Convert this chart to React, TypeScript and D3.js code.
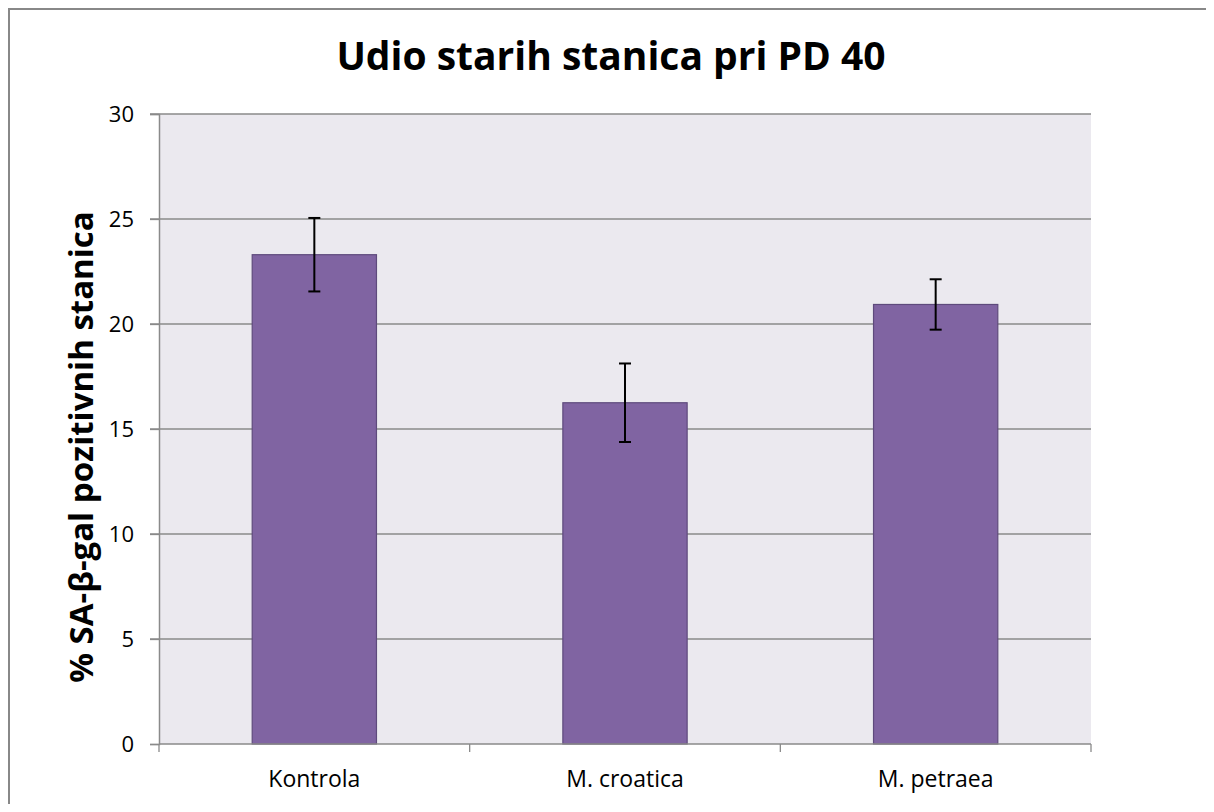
import React, { useEffect, useRef } from 'react';
import * as d3 from 'd3';

const categories = ['Kontrola', 'M. croatica', 'M. petraea'];
const values = [23.3, 16.25, 20.93];
const errors = [1.75, 1.87, 1.2];
const yTicks = [0, 5, 10, 15, 20, 25, 30];

const title = 'Udio starih stanica pri PD 40';
const yTitle = '% SA-β-gal pozitivnih stanica';

const W = 1198;
const H = 796;
const margin = { left: 151, right: 115, top: 106, bottom: 60 };
const font = '"Open Sans", sans-serif';

export default function App() {
  const svgRef = useRef<SVGSVGElement>(null);

  useEffect(() => {
    const svg = d3.select(svgRef.current);
    svg.selectAll('*').remove();

    const x0 = margin.left;
    const x1 = W - margin.right;
    const y0 = H - margin.bottom;
    const y1 = margin.top;

    // frame (only top and left edges are in view)
    svg.append('path')
      .attr('d', `M1,${H} L1,1 L${W},1`)
      .attr('fill', 'none')
      .attr('stroke', '#888')
      .attr('stroke-width', 2);

    const x = d3.scaleBand<string>()
      .domain(categories)
      .range([x0, x1])
      .paddingInner(0.6)
      .paddingOuter(0.3);

    const y = d3.scaleLinear().domain([0, 30]).range([y0, y1]);

    // plot background
    svg.append('rect')
      .attr('x', x0)
      .attr('y', y1)
      .attr('width', x1 - x0)
      .attr('height', y0 - y1)
      .attr('fill', '#ebe9ef');

    // grid lines
    svg.append('g')
      .selectAll('line')
      .data(yTicks.filter((t) => t > 0))
      .enter()
      .append('line')
      .attr('x1', x0 - 9)
      .attr('x2', x1)
      .attr('y1', (d) => y(d))
      .attr('y2', (d) => y(d))
      .attr('stroke', '#8a8a8a')
      .attr('stroke-width', 1.3);

    // y axis
    const yAxis = d3.axisLeft(y).tickValues(yTicks).tickSize(9).tickPadding(16);
    const gy = svg.append('g').attr('transform', `translate(${x0},0)`).call(yAxis);
    gy.select('.domain').attr('stroke', '#8a8a8a').attr('stroke-width', 1.5);
    gy.selectAll('.tick line').attr('stroke', '#8a8a8a').attr('stroke-width', 1.3);
    gy.selectAll('.tick text')
      .attr('fill', '#000')
      .style('font-family', font)
      .style('font-size', '22px');

    // bars
    svg.append('g')
      .selectAll('rect')
      .data(values)
      .enter()
      .append('rect')
      .attr('x', (d, i) => x(categories[i])!)
      .attr('y', (d) => y(d))
      .attr('width', x.bandwidth())
      .attr('height', (d) => y0 - y(d))
      .attr('fill', '#8064a2')
      .attr('stroke', '#5e4a7c')
      .attr('stroke-width', 1.2);

    // error bars
    const eg = svg.append('g')
      .selectAll('g')
      .data(values)
      .enter()
      .append('g')
      .attr('stroke', '#000')
      .attr('stroke-width', 2);
    const cx = (i: number) => x(categories[i])! + x.bandwidth() / 2;
    eg.append('line')
      .attr('x1', (d, i) => cx(i))
      .attr('x2', (d, i) => cx(i))
      .attr('y1', (d, i) => y(d + errors[i]))
      .attr('y2', (d, i) => y(d - errors[i]));
    eg.append('line')
      .attr('x1', (d, i) => cx(i) - 6)
      .attr('x2', (d, i) => cx(i) + 6)
      .attr('y1', (d, i) => y(d + errors[i]))
      .attr('y2', (d, i) => y(d + errors[i]));
    eg.append('line')
      .attr('x1', (d, i) => cx(i) - 6)
      .attr('x2', (d, i) => cx(i) + 6)
      .attr('y1', (d, i) => y(d - errors[i]))
      .attr('y2', (d, i) => y(d - errors[i]));

    // x axis with ticks between categories
    const step = x.step();
    const bounds = d3.range(categories.length + 1).map((i) => x0 + i * step);
    svg.append('line')
      .attr('x1', x0)
      .attr('x2', x1)
      .attr('y1', y0)
      .attr('y2', y0)
      .attr('stroke', '#8a8a8a')
      .attr('stroke-width', 1.5);
    svg.append('g')
      .selectAll('line')
      .data(bounds)
      .enter()
      .append('line')
      .attr('x1', (d) => d)
      .attr('x2', (d) => d)
      .attr('y1', y0)
      .attr('y2', y0 + 8)
      .attr('stroke', '#8a8a8a')
      .attr('stroke-width', 1.3);
    svg.append('g')
      .selectAll('text')
      .data(categories)
      .enter()
      .append('text')
      .attr('x', (d) => x(d)! + x.bandwidth() / 2)
      .attr('y', y0 + 43)
      .attr('text-anchor', 'middle')
      .style('font-family', font)
      .style('font-size', '23px')
      .text((d) => d);

    // titles
    svg.append('text')
      .attr('x', 603)
      .attr('y', 62)
      .attr('text-anchor', 'middle')
      .style('font-family', font)
      .style('font-weight', 'bold')
      .style('font-size', '39px')
      .text(title);

    svg.append('text')
      .attr('transform', `translate(85,439) rotate(-90)`)
      .attr('text-anchor', 'middle')
      .style('font-family', font)
      .style('font-weight', 'bold')
      .style('font-size', '33px')
      .text(yTitle);
  }, []);

  return (
    <svg ref={svgRef} width={W} height={H} style={{ display: 'block' }} />
  );
}
